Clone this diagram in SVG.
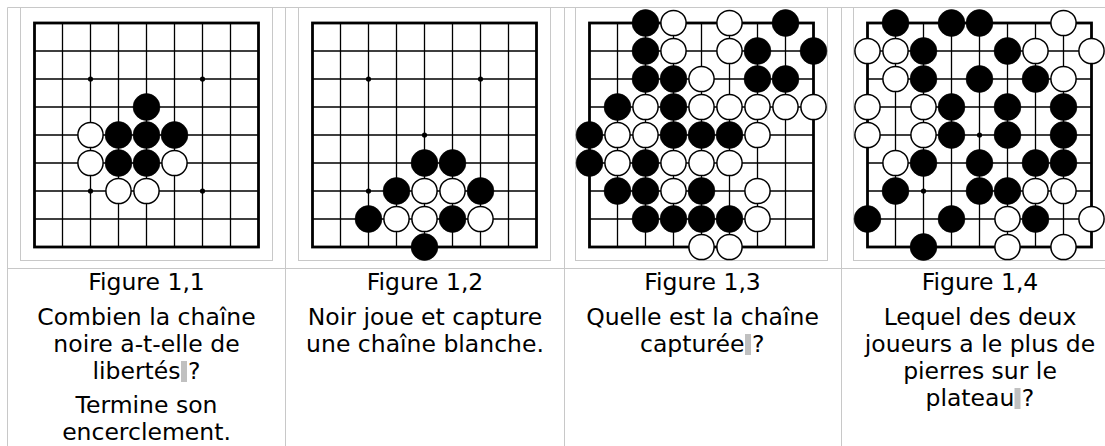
<svg xmlns="http://www.w3.org/2000/svg" xmlns:xlink="http://www.w3.org/1999/xlink" width="1105" height="446" viewBox="0 0 1105 446">
<style>
.tbl{stroke:#c8c8c8;stroke-width:1;fill:none}
.frm{stroke:#c8c8c8;stroke-width:1;fill:#ffffff}
.gl{stroke:#000;stroke-width:1.3;fill:none}
.edge{stroke:#000;stroke-width:2.8;fill:none}
.star{fill:#000}
.b{fill:#000;stroke:#000;stroke-width:0.6}
.w{fill:#fff;stroke:#000;stroke-width:1.5}
.t{font-family:"DejaVu Sans","Noto Sans",sans-serif;font-size:23.5px;fill:#000;text-anchor:middle}
.ts{font-family:"DejaVu Sans","Noto Sans",sans-serif;font-size:23.5px;fill:#000}
.hl{fill:#c0c0c0}
</style>
<defs>
<g id="grid">
<path class="gl" d="M0 28H224M0 56H224M0 84H224M0 112H224M0 140H224M0 168H224M0 196H224M28 0V224M56 0V224M84 0V224M112 0V224M140 0V224M168 0V224M196 0V224"/>
<rect class="edge" x="0" y="0" width="224" height="224"/>
<circle class="star" cx="56" cy="56" r="2.6"/>
<circle class="star" cx="168" cy="56" r="2.6"/>
<circle class="star" cx="112" cy="112" r="2.6"/>
<circle class="star" cx="56" cy="168" r="2.6"/>
<circle class="star" cx="168" cy="168" r="2.6"/>
</g>
</defs>
<rect width="1105" height="446" fill="#ffffff"/>
<g id="table">
<path class="tbl" d="M7.5 7.5H1105M7.5 7.5V446M285.5 7.5V446M564.5 7.5V446M841.5 7.5V446M7.5 268.5H1105"/>
<rect class="frm" x="20.5" y="7.5" width="252" height="253"/>
<rect class="frm" x="298.5" y="7.5" width="252" height="253"/>
<rect class="frm" x="575.5" y="7.5" width="252" height="253"/>
<rect class="frm" x="853.5" y="7.5" width="252" height="253"/>
</g>
<g id="board1">
<use xlink:href="#grid" href="#grid" x="34.5" y="23"/>
<circle class="b" cx="146.5" cy="107" r="13.4"/>
<circle class="w" cx="90.5" cy="135" r="12.6"/>
<circle class="b" cx="118.5" cy="135" r="13.4"/>
<circle class="b" cx="146.5" cy="135" r="13.4"/>
<circle class="b" cx="174.5" cy="135" r="13.4"/>
<circle class="w" cx="90.5" cy="163" r="12.6"/>
<circle class="b" cx="118.5" cy="163" r="13.4"/>
<circle class="b" cx="146.5" cy="163" r="13.4"/>
<circle class="w" cx="174.5" cy="163" r="12.6"/>
<circle class="w" cx="118.5" cy="191" r="12.6"/>
<circle class="w" cx="146.5" cy="191" r="12.6"/>
</g>
<g id="board2">
<use xlink:href="#grid" href="#grid" x="312.5" y="23"/>
<circle class="b" cx="424.5" cy="163" r="13.4"/>
<circle class="b" cx="452.5" cy="163" r="13.4"/>
<circle class="b" cx="396.5" cy="191" r="13.4"/>
<circle class="w" cx="424.5" cy="191" r="12.6"/>
<circle class="w" cx="452.5" cy="191" r="12.6"/>
<circle class="b" cx="480.5" cy="191" r="13.4"/>
<circle class="b" cx="368.5" cy="219" r="13.4"/>
<circle class="w" cx="396.5" cy="219" r="12.6"/>
<circle class="w" cx="424.5" cy="219" r="12.6"/>
<circle class="b" cx="452.5" cy="219" r="13.4"/>
<circle class="w" cx="480.5" cy="219" r="12.6"/>
<circle class="b" cx="424.5" cy="247" r="13.4"/>
</g>
<g id="board3">
<use xlink:href="#grid" href="#grid" x="589.5" y="23"/>
<circle class="b" cx="645.5" cy="23" r="13.4"/>
<circle class="w" cx="673.5" cy="23" r="12.6"/>
<circle class="w" cx="729.5" cy="23" r="12.6"/>
<circle class="b" cx="785.5" cy="23" r="13.4"/>
<circle class="b" cx="645.5" cy="51" r="13.4"/>
<circle class="w" cx="673.5" cy="51" r="12.6"/>
<circle class="w" cx="729.5" cy="51" r="12.6"/>
<circle class="b" cx="757.5" cy="51" r="13.4"/>
<circle class="b" cx="813.5" cy="51" r="13.4"/>
<circle class="b" cx="645.5" cy="79" r="13.4"/>
<circle class="b" cx="673.5" cy="79" r="13.4"/>
<circle class="w" cx="701.5" cy="79" r="12.6"/>
<circle class="b" cx="757.5" cy="79" r="13.4"/>
<circle class="b" cx="785.5" cy="79" r="13.4"/>
<circle class="b" cx="617.5" cy="107" r="13.4"/>
<circle class="w" cx="645.5" cy="107" r="12.6"/>
<circle class="b" cx="673.5" cy="107" r="13.4"/>
<circle class="w" cx="701.5" cy="107" r="12.6"/>
<circle class="w" cx="729.5" cy="107" r="12.6"/>
<circle class="w" cx="757.5" cy="107" r="12.6"/>
<circle class="w" cx="785.5" cy="107" r="12.6"/>
<circle class="w" cx="813.5" cy="107" r="12.6"/>
<circle class="b" cx="589.5" cy="135" r="13.4"/>
<circle class="w" cx="617.5" cy="135" r="12.6"/>
<circle class="w" cx="645.5" cy="135" r="12.6"/>
<circle class="b" cx="673.5" cy="135" r="13.4"/>
<circle class="b" cx="701.5" cy="135" r="13.4"/>
<circle class="b" cx="729.5" cy="135" r="13.4"/>
<circle class="w" cx="757.5" cy="135" r="12.6"/>
<circle class="b" cx="589.5" cy="163" r="13.4"/>
<circle class="w" cx="617.5" cy="163" r="12.6"/>
<circle class="b" cx="645.5" cy="163" r="13.4"/>
<circle class="w" cx="673.5" cy="163" r="12.6"/>
<circle class="w" cx="701.5" cy="163" r="12.6"/>
<circle class="w" cx="729.5" cy="163" r="12.6"/>
<circle class="b" cx="617.5" cy="191" r="13.4"/>
<circle class="b" cx="645.5" cy="191" r="13.4"/>
<circle class="w" cx="673.5" cy="191" r="12.6"/>
<circle class="b" cx="701.5" cy="191" r="13.4"/>
<circle class="w" cx="757.5" cy="191" r="12.6"/>
<circle class="b" cx="645.5" cy="219" r="13.4"/>
<circle class="b" cx="673.5" cy="219" r="13.4"/>
<circle class="b" cx="701.5" cy="219" r="13.4"/>
<circle class="b" cx="729.5" cy="219" r="13.4"/>
<circle class="w" cx="757.5" cy="219" r="12.6"/>
<circle class="w" cx="701.5" cy="247" r="12.6"/>
<circle class="w" cx="729.5" cy="247" r="12.6"/>
</g>
<g id="board4">
<use xlink:href="#grid" href="#grid" x="867.5" y="23"/>
<circle class="b" cx="895.5" cy="23" r="13.4"/>
<circle class="b" cx="951.5" cy="23" r="13.4"/>
<circle class="b" cx="979.5" cy="23" r="13.4"/>
<circle class="w" cx="1063.5" cy="23" r="12.6"/>
<circle class="w" cx="867.5" cy="51" r="12.6"/>
<circle class="w" cx="895.5" cy="51" r="12.6"/>
<circle class="b" cx="923.5" cy="51" r="13.4"/>
<circle class="b" cx="1007.5" cy="51" r="13.4"/>
<circle class="w" cx="1035.5" cy="51" r="12.6"/>
<circle class="w" cx="1091.5" cy="51" r="12.6"/>
<circle class="w" cx="895.5" cy="79" r="12.6"/>
<circle class="b" cx="923.5" cy="79" r="13.4"/>
<circle class="b" cx="979.5" cy="79" r="13.4"/>
<circle class="b" cx="1035.5" cy="79" r="13.4"/>
<circle class="w" cx="1063.5" cy="79" r="12.6"/>
<circle class="w" cx="867.5" cy="107" r="12.6"/>
<circle class="w" cx="923.5" cy="107" r="12.6"/>
<circle class="b" cx="951.5" cy="107" r="13.4"/>
<circle class="b" cx="1007.5" cy="107" r="13.4"/>
<circle class="b" cx="1063.5" cy="107" r="13.4"/>
<circle class="w" cx="867.5" cy="135" r="12.6"/>
<circle class="w" cx="923.5" cy="135" r="12.6"/>
<circle class="b" cx="951.5" cy="135" r="13.4"/>
<circle class="b" cx="1007.5" cy="135" r="13.4"/>
<circle class="b" cx="1063.5" cy="135" r="13.4"/>
<circle class="w" cx="895.5" cy="163" r="12.6"/>
<circle class="b" cx="923.5" cy="163" r="13.4"/>
<circle class="b" cx="979.5" cy="163" r="13.4"/>
<circle class="b" cx="1035.5" cy="163" r="13.4"/>
<circle class="b" cx="1063.5" cy="163" r="13.4"/>
<circle class="b" cx="895.5" cy="191" r="13.4"/>
<circle class="b" cx="979.5" cy="191" r="13.4"/>
<circle class="b" cx="1007.5" cy="191" r="13.4"/>
<circle class="w" cx="1035.5" cy="191" r="12.6"/>
<circle class="w" cx="1063.5" cy="191" r="12.6"/>
<circle class="b" cx="867.5" cy="219" r="13.4"/>
<circle class="b" cx="951.5" cy="219" r="13.4"/>
<circle class="w" cx="1007.5" cy="219" r="12.6"/>
<circle class="b" cx="1035.5" cy="219" r="13.4"/>
<circle class="w" cx="1091.5" cy="219" r="12.6"/>
<circle class="b" cx="923.5" cy="247" r="13.4"/>
<circle class="w" cx="1007.5" cy="247" r="12.6"/>
<circle class="w" cx="1063.5" cy="247" r="12.6"/>
</g>
<g id="caption1">
<text class="t" x="146.5" y="290">Figure 1,1</text>
<text class="t" x="146.5" y="325">Combien la chaîne</text>
<text class="t" x="146.5" y="352">noire a-t-elle de</text>
<rect class="hl" x="181" y="361" width="6" height="21"/>
<text class="ts" x="92.5" y="379">libertés ?</text>
<text class="t" x="146.5" y="413">Termine son</text>
<text class="t" x="146.5" y="440">encerclement.</text>
</g>
<g id="caption2">
<text class="t" x="425" y="290">Figure 1,2</text>
<text class="t" x="425" y="325">Noir joue et capture</text>
<text class="t" x="425" y="352">une chaîne blanche.</text>
</g>
<g id="caption3">
<text class="t" x="702.5" y="290">Figure 1,3</text>
<text class="t" x="702.5" y="325">Quelle est la chaîne</text>
<rect class="hl" x="745" y="334" width="6" height="21"/>
<text class="ts" x="640" y="352">capturée ?</text>
</g>
<g id="caption4">
<text class="t" x="980" y="290">Figure 1,4</text>
<text class="t" x="980" y="325">Lequel des deux</text>
<text class="t" x="980" y="352">joueurs a le plus de</text>
<text class="t" x="980" y="379">pierres sur le</text>
<rect class="hl" x="1014.5" y="388" width="6" height="21"/>
<text class="ts" x="925.5" y="406">plateau ?</text>
</g>
</svg>
